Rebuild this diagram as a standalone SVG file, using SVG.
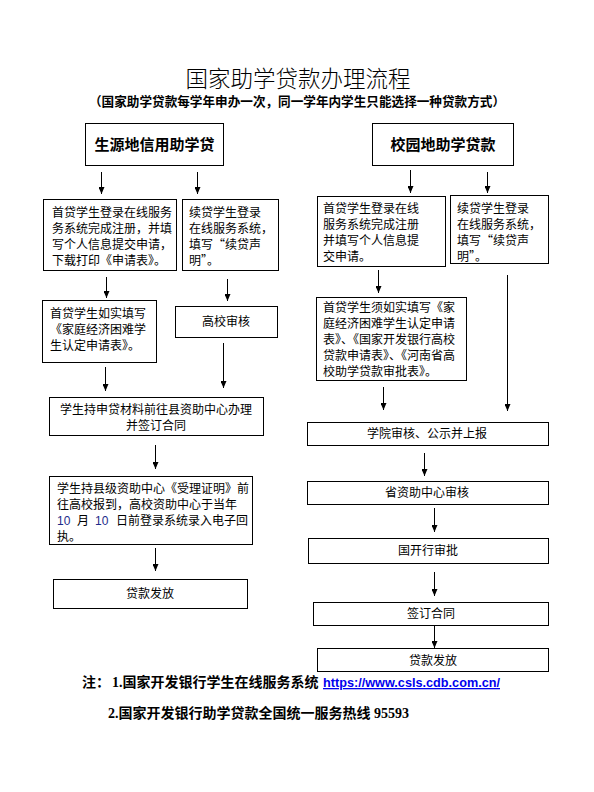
<svg xmlns="http://www.w3.org/2000/svg" width="594" height="792" viewBox="0 0 594 792">
<style>
.bg{fill:#fff}
.box{fill:#fff;stroke:#000;stroke-width:1}
.t{font-family:"Noto Sans CJK SC","Liberation Sans",sans-serif;font-size:12px;fill:#000}
.c{text-anchor:middle}
.h{font-family:"Noto Sans CJK SC","Liberation Sans",sans-serif;font-size:15px;font-weight:bold;fill:#000;text-anchor:middle}
.title{font-family:"Noto Sans CJK SC",sans-serif;font-size:22.5px;font-weight:300;fill:#000;text-anchor:middle}
.sub{font-family:"Noto Sans CJK SC",sans-serif;font-size:12.6px;font-weight:bold;fill:#000;text-anchor:middle}
.note{font-family:"Noto Sans CJK SC",sans-serif;font-size:14px;font-weight:bold;fill:#000}
.num{font-family:"Liberation Serif",serif;font-weight:bold}
.link{font-family:"Liberation Sans",sans-serif;font-weight:bold;fill:#0000ee;text-decoration:underline}
.conn line{stroke:#000;stroke-width:1;marker-end:url(#ah)}
</style>
<defs>
<marker id="ah" markerUnits="userSpaceOnUse" markerWidth="6" markerHeight="7" refX="3" refY="7" orient="0" viewBox="0 0 6 7">
<path d="M0,0 L6,0 L3,7 z" fill="#000"/>
</marker>
</defs>
<rect class="bg" x="0" y="0" width="594" height="792"/>
<g id="title">
<text class="title" x="298" y="87">国家助学贷款办理流程</text>
<text class="sub" x="297" y="106" textLength="416" lengthAdjust="spacingAndGlyphs">（国家助学贷款每学年申办一次，同一学年内学生只能选择一种贷款方式）</text>
</g>
<g id="nodeA"><rect class="box" x="85.5" y="123.5" width="138" height="42"/><text class="h" x="154.5" y="150">生源地信用助学贷</text></g>
<g id="nodeB1"><rect class="box" x="43.5" y="199.5" width="133" height="71"/>
<text class="t" x="52" y="217">首贷学生登录在线服务</text>
<text class="t" x="52" y="233">务系统完成注册，并填</text>
<text class="t" x="52" y="249">写个人信息提交申请，</text>
<text class="t" x="52" y="265">下载打印《申请表》。</text></g>
<g id="nodeB2"><rect class="box" x="182.5" y="199.5" width="96" height="71"/>
<text class="t" x="189" y="217">续贷学生登录</text>
<text class="t" x="189" y="233">在线服务系统，</text>
<text class="t" x="189" y="249">填写“续贷声</text>
<text class="t" x="189" y="265">明”。</text></g>
<g id="nodeC1"><rect class="box" x="42.5" y="300.5" width="114" height="62"/>
<text class="t" x="50" y="318">首贷学生如实填写</text>
<text class="t" x="50" y="334">《家庭经济困难学</text>
<text class="t" x="50" y="350">生认定申请表》。</text></g>
<g id="nodeC2"><rect class="box" x="175.5" y="306.5" width="102" height="31"/><text class="t c" x="226" y="326">高校审核</text></g>
<g id="nodeD"><rect class="box" x="49.5" y="397.5" width="214" height="38"/>
<text class="t c" x="156" y="414">学生持申贷材料前往县资助中心办理</text>
<text class="t c" x="156" y="430">并签订合同</text></g>
<g id="nodeE"><rect class="box" x="49.5" y="476.5" width="203" height="68"/>
<text class="t" x="57" y="493">学生持县级资助中心《受理证明》前</text>
<text class="t" x="57" y="509">往高校报到，高校资助中心于当年</text>
<text class="t" x="57" y="525"><tspan fill="#1c2a8a" font-family="Liberation Sans">10</tspan><tspan x="77">月</tspan><tspan x="95" fill="#1c2a8a" font-family="Liberation Sans">10</tspan><tspan x="116">日前登录系统录入电子回</tspan></text>
<text class="t" x="57" y="541">执。</text></g>
<g id="nodeF"><rect class="box" x="53.5" y="579.5" width="194" height="29"/><text class="t c" x="150" y="598">贷款发放</text></g>

<g id="nodeR"><rect class="box" x="372.5" y="123.5" width="141" height="42"/><text class="h" x="443" y="150">校园地助学贷款</text></g>
<g id="nodeG1"><rect class="box" x="317.5" y="196.5" width="128" height="70"/>
<text class="t" x="323" y="213">首贷学生登录在线</text>
<text class="t" x="323" y="229">服务系统完成注册</text>
<text class="t" x="323" y="245">并填写个人信息提</text>
<text class="t" x="323" y="261">交申请。</text></g>
<g id="nodeG2"><rect class="box" x="450.5" y="195.5" width="98" height="68"/>
<text class="t" x="457" y="213">续贷学生登录</text>
<text class="t" x="457" y="229">在线服务系统，</text>
<text class="t" x="457" y="245">填写“续贷声</text>
<text class="t" x="457" y="261">明”。</text></g>
<g id="nodeH"><rect class="box" x="316.5" y="297.5" width="150" height="83"/>
<text class="t" x="323" y="312">首贷学生须如实填写《家</text>
<text class="t" x="323" y="328">庭经济困难学生认定申请</text>
<text class="t" x="323" y="344">表》、《国家开发银行高校</text>
<text class="t" x="323" y="360">贷款申请表》、《河南省高</text>
<text class="t" x="323" y="376">校助学贷款审批表》。</text></g>
<g id="nodeI"><rect class="box" x="307.5" y="422.5" width="241" height="23"/><text class="t c" x="427" y="438">学院审核、公示并上报</text></g>
<g id="nodeJ"><rect class="box" x="307.5" y="481.5" width="241" height="23"/><text class="t c" x="427" y="497">省资助中心审核</text></g>
<g id="nodeK"><rect class="box" x="308.5" y="538.5" width="240" height="25"/><text class="t c" x="428" y="555">国开行审批</text></g>
<g id="nodeL"><rect class="box" x="313.5" y="602.5" width="235" height="23"/><text class="t c" x="431" y="618">签订合同</text></g>
<g id="nodeM"><rect class="box" x="317.5" y="648.5" width="231" height="23"/><text class="t c" x="433" y="665">贷款发放</text></g>

<g id="connectors" class="conn">
<line x1="101.5" y1="172" x2="101.5" y2="194"/>
<line x1="197.5" y1="172" x2="197.5" y2="194"/>
<line x1="106.5" y1="277" x2="106.5" y2="298"/>
<line x1="227.5" y1="279" x2="227.5" y2="301"/>
<line x1="105.5" y1="367" x2="105.5" y2="391"/>
<line x1="223.5" y1="343" x2="223.5" y2="388"/>
<line x1="155.5" y1="445" x2="155.5" y2="469"/>
<line x1="155.5" y1="548" x2="155.5" y2="571"/>
<line x1="410.5" y1="170" x2="410.5" y2="193"/>
<line x1="487.5" y1="172" x2="487.5" y2="193"/>
<line x1="378.5" y1="270" x2="378.5" y2="293"/>
<line x1="507.5" y1="275" x2="507.5" y2="411"/>
<line x1="383.5" y1="387" x2="383.5" y2="410"/>
<line x1="424.5" y1="453" x2="424.5" y2="476"/>
<line x1="434.5" y1="508" x2="434.5" y2="532"/>
<line x1="434.5" y1="572" x2="434.5" y2="596"/>
<line x1="434.5" y1="626" x2="434.5" y2="648"/>
</g>
<g id="notes">
<text class="note" x="82" y="687">注：<tspan class="num" x="112">1.</tspan>国家开发银行学生在线服务系统 <tspan class="link" x="323" font-size="13" textLength="177" lengthAdjust="spacingAndGlyphs">https://www.csls.cdb.com.cn/</tspan></text>
<text class="note" x="108" y="718"><tspan class="num">2.</tspan>国家开发银行助学贷款全国统一服务热线<tspan class="num"> 95593</tspan></text>
</g>
</svg>
